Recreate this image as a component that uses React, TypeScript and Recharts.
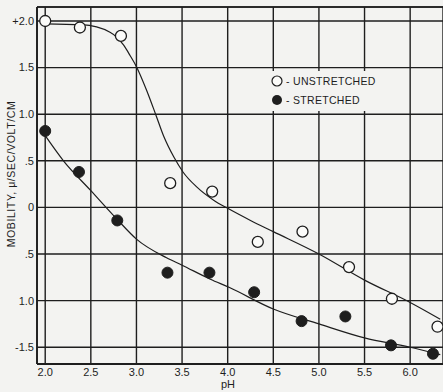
import React from 'react'
import {
  ComposedChart,
  Line,
  Scatter,
  XAxis,
  YAxis,
  CartesianGrid,
  ReferenceLine,
} from 'recharts'

const unstretchedPH = [2.0, 2.38, 2.83, 3.37, 3.83, 4.33, 4.82, 5.33, 5.8, 6.3]
const unstretchedMob = [2.0, 1.93, 1.84, 0.26, 0.17, -0.37, -0.26, -0.64, -0.98, -1.28]

const stretchedPH = [2.0, 2.37, 2.79, 3.34, 3.8, 4.29, 4.81, 5.29, 5.79, 6.25]
const stretchedMob = [0.82, 0.38, -0.14, -0.7, -0.7, -0.91, -1.22, -1.17, -1.48, -1.57]

// hand-drawn fitted curves, traced at a few points
const unstretchedCurvePH = [2.0, 2.4, 2.71, 2.86, 2.93, 3.0, 3.11, 3.21, 3.3, 3.41, 3.51, 3.66, 3.85, 4.0, 4.25, 4.5, 5.0, 5.5, 6.0, 6.33]
const unstretchedCurveMob = [1.97, 1.96, 1.88, 1.74, 1.63, 1.51, 1.26, 1.0, 0.76, 0.54, 0.38, 0.22, 0.075, -0.01, -0.14, -0.26, -0.5, -0.78, -1.02, -1.2]

const stretchedCurvePH = [2.0, 2.2, 2.5, 2.79, 3.0, 3.33, 3.5, 3.81, 4.02, 4.5, 5.0, 5.5, 6.0, 6.33]
const stretchedCurveMob = [0.77, 0.5, 0.18, -0.13, -0.34, -0.54, -0.62, -0.77, -0.86, -1.09, -1.25, -1.4, -1.5, -1.58]

const xTicks = [2.0, 2.5, 3.0, 3.5, 4.0, 4.5, 5.0, 5.5, 6.0]
const yTicks = [-1.5, -1.0, -0.5, 0, 0.5, 1.0, 1.5, 2.0]
const yTickLabels: Record<string, string> = {
  '-1.5': '-1.5',
  '-1': '1.0',
  '-0.5': '.5',
  '0': '0',
  '0.5': '.5',
  '1': '1.0',
  '1.5': '1.5',
  '2': '+2.0',
}

const X_MIN = 1.91
const X_MAX = 6.36
const Y_MIN = -1.68
const Y_MAX = 2.15

const INK = '#1e1e1e'
const PAPER = '#f3f3f1'
const FONT = '"Liberation Sans", Arial, sans-serif'

const zip = (xs: number[], ys: number[]) => xs.map((x, i) => ({ x, y: ys[i] }))

const unstretched = zip(unstretchedPH, unstretchedMob)
const stretched = zip(stretchedPH, stretchedMob)
const unstretchedCurve = zip(unstretchedCurvePH, unstretchedCurveMob)
const stretchedCurve = zip(stretchedCurvePH, stretchedCurveMob)

const OpenDot = (props: any) => (
  <circle cx={props.cx} cy={props.cy} r={5.5} fill="#fbfbf9" stroke={INK} strokeWidth={1.3} />
)
const FilledDot = (props: any) => (
  <circle cx={props.cx} cy={props.cy} r={5.5} fill={INK} stroke={INK} strokeWidth={1} />
)

const YTitle = () => (
  <text
    x={11}
    y={174}
    transform="rotate(-90, 11, 174)"
    textAnchor="middle"
    dominantBaseline="central"
    fill={INK}
    fontSize={10.5}
    fontFamily={FONT}
    letterSpacing={0.6}
  >
    MOBILITY,  {'\u03bc'}/SEC/VOLT/CM
  </text>
)

const XTitle = () => (
  <text x={228} y={384} textAnchor="middle" dominantBaseline="central" fill={INK} fontSize={11} fontFamily={FONT}>
    pH
  </text>
)

function KeyBox() {
  const row = { display: 'flex', alignItems: 'center', height: 19, whiteSpace: 'nowrap' as const }
  const txt = { fontFamily: FONT, fontSize: 10.5, color: INK, letterSpacing: 0.3, marginLeft: 3 }
  return (
    <div
      style={{
        position: 'absolute',
        left: 268,
        top: 71,
        width: 112,
        height: 40,
        background: PAPER,
        paddingLeft: 3,
        boxSizing: 'border-box',
      }}
    >
      <div style={row}>
        <svg width={12} height={12}>
          <circle cx={6} cy={6} r={5} fill="#fbfbf9" stroke={INK} strokeWidth={1.2} />
        </svg>
        <span style={txt}>- UNSTRETCHED</span>
      </div>
      <div style={row}>
        <svg width={12} height={12}>
          <circle cx={6} cy={6} r={5} fill={INK} />
        </svg>
        <span style={txt}>- STRETCHED</span>
      </div>
    </div>
  )
}

export default function App() {
  return (
    <div style={{ position: 'fixed', left: 0, top: 0, width: 443, height: 392, background: PAPER }}>
      <ComposedChart width={443} height={392} margin={{ top: 7, right: 0, bottom: 0, left: 0 }}>
        <CartesianGrid stroke={INK} strokeWidth={1.4} />
        <XAxis
          dataKey="x"
          type="number"
          domain={[X_MIN, X_MAX]}
          ticks={xTicks}
          allowDataOverflow
          height={28}
          axisLine={{ stroke: INK, strokeWidth: 1.8 }}
          tickLine={false}
          tickSize={2}
          tickMargin={2}
          tick={{ fill: INK, fontSize: 11, fontFamily: FONT }}
          tickFormatter={(v: number) => v.toFixed(1)}
          label={{ content: () => <XTitle /> }}
        />
        <YAxis
          type="number"
          domain={[Y_MIN, Y_MAX]}
          ticks={yTicks}
          allowDataOverflow
          width={37}
          axisLine={{ stroke: INK, strokeWidth: 1.8 }}
          tickLine={false}
          tickSize={2}
          tickMargin={1}
          tick={{ fill: INK, fontSize: 11, fontFamily: FONT }}
          tickFormatter={(v: number) => yTickLabels[String(v)] ?? String(v)}
          label={{ content: () => <YTitle /> }}
        />
        <ReferenceLine y={Y_MAX} stroke={INK} strokeWidth={1.6} />
        <Line
          data={unstretchedCurve}
          dataKey="y"
          type="monotone"
          stroke={INK}
          strokeWidth={1.2}
          dot={false}
          activeDot={false}
          isAnimationActive={false}
        />
        <Line
          data={stretchedCurve}
          dataKey="y"
          type="monotone"
          stroke={INK}
          strokeWidth={1.2}
          dot={false}
          activeDot={false}
          isAnimationActive={false}
        />
        <Scatter data={unstretched} dataKey="y" shape={OpenDot} isAnimationActive={false} />
        <Scatter data={stretched} dataKey="y" shape={FilledDot} isAnimationActive={false} />
      </ComposedChart>
      <KeyBox />
    </div>
  )
}
